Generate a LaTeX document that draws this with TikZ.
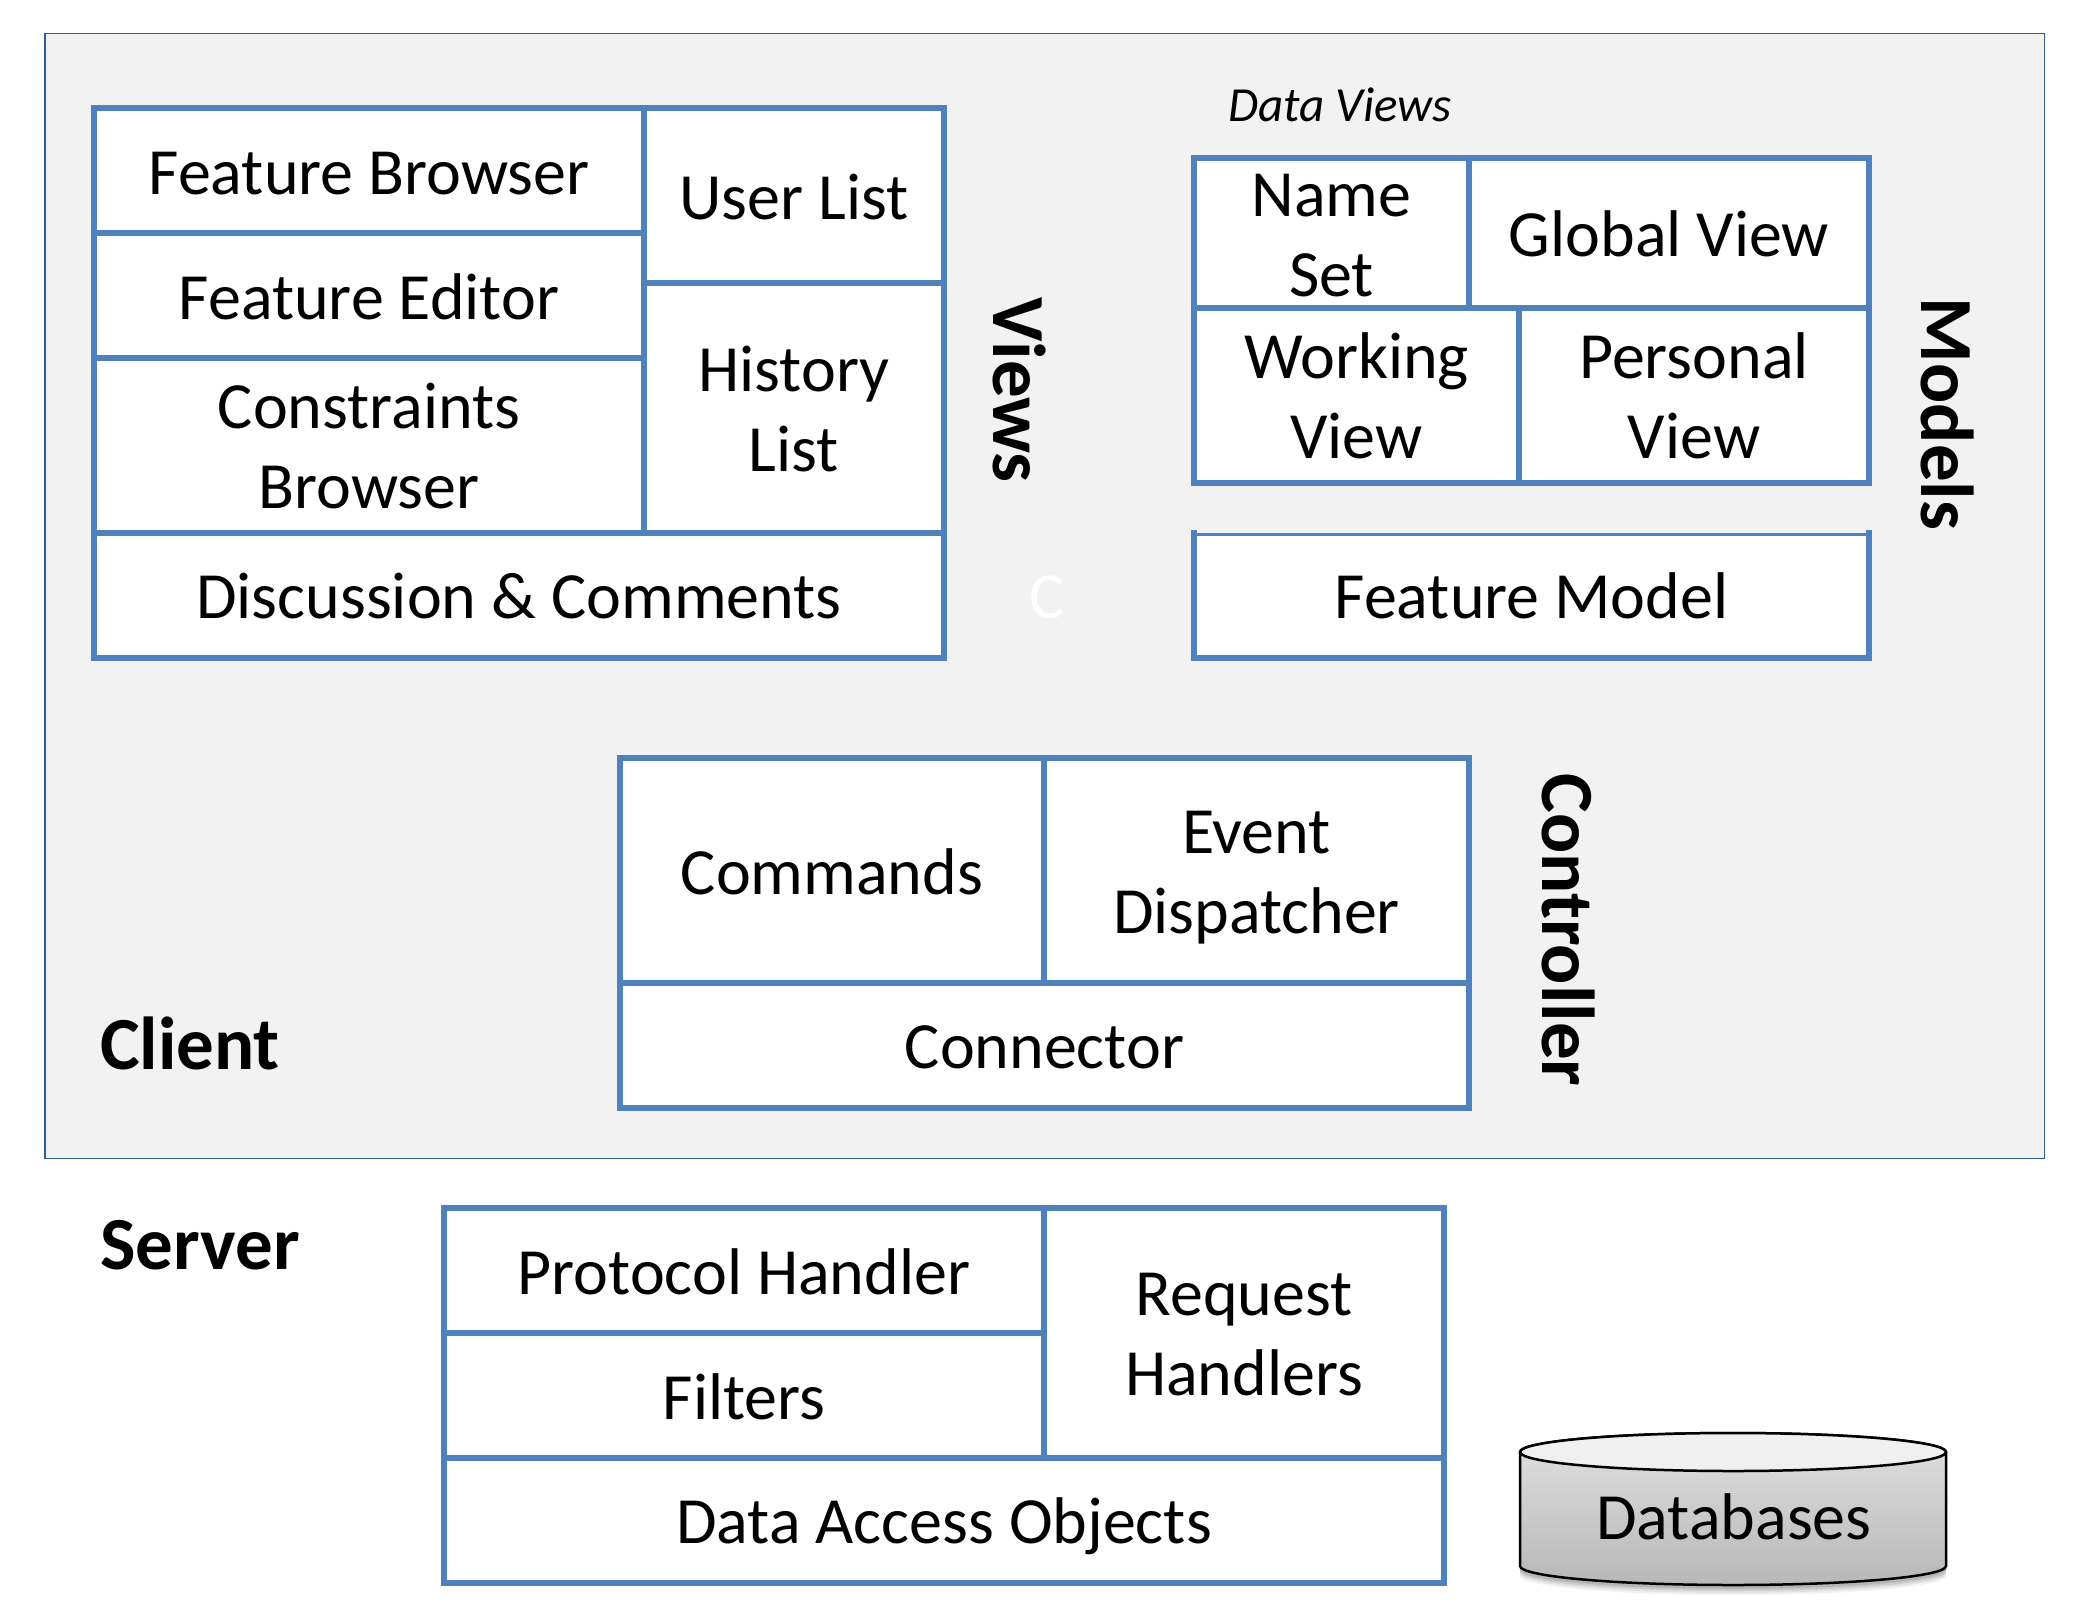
\documentclass[tikz,border=0pt]{standalone}
\usepackage{fontspec}
\setmainfont{Carlito}
\definecolor{boxblue}{HTML}{4F81BD}
\definecolor{panelgray}{HTML}{F2F2F2}
\definecolor{panelline}{HTML}{2F5F93}
\tikzset{
  x=1pt,y=-1pt,
  cellbox/.style={draw=boxblue,line width=6pt,fill=white,rectangle,inner sep=0pt,outer sep=0pt},
  lbl/.style={inner sep=0pt,outer sep=0pt,align=center,font=\fontsize{66}{80}\selectfont},
  sidelbl/.style={inner sep=0pt,outer sep=0pt,rotate=-90,font=\fontsize{75}{80}\selectfont\bfseries},
  tierlbl/.style={inner sep=0pt,outer sep=0pt,anchor=west,font=\fontsize{75}{80}\selectfont\bfseries},
  dblbl/.style={inner sep=0pt,outer sep=0pt,font=\fontsize{66}{70}\selectfont},
}
\newcommand{\cell}[7][0]{\node[cellbox,minimum width={(#5-#3)*1pt},minimum height={(#6-#4)*1pt}] (#2) at ({(#3+#5)/2},{(#4+#6)/2}) {};
  \node[lbl,yshift={-(#1)*1pt}] (#2t) at (#2.center) {#7};}
\begin{document}
\begin{tikzpicture}
\useasboundingbox (0,0) rectangle (2092,1620);
\node[rectangle,draw=panelline,line width=1.4pt,fill=panelgray,minimum width=1999.4pt,minimum height=1124.8pt,inner sep=0pt,outer sep=0pt] (client) at (1044.6,595.9) {};
% Views
\cell[3]{fb}{94}{108}{644}{233}{Feature Browser}
\cell[1]{fe}{94}{233}{644}{358}{Feature Editor}
\cell[1]{cb}{94}{358}{644}{533}{Constraints\\Browser}
\cell[2]{ul}{644}{108}{944}{283}{User List}
\cell[1]{hl}{644}{283}{944}{533}{History\\List}
\cell[1]{dc}{94}{533}{944}{658}{Discussion \& Comments}
\node[sidelbl] (views) at (1020,390) {Views};
\node[inner sep=0pt,font=\fontsize{66}{70}\selectfont,text=white] (cc) at (1047,597) {C};
% Models
\node[inner sep=0pt,font=\fontsize{49}{50}\selectfont\itshape] (dv) at (1340,105) {Data Views};
\cell[3]{ns}{1194}{158}{1469}{308}{Name\\Set}
\cell[1]{gv}{1469}{158}{1869}{308}{Global View}
\cell{wv}{1194}{308}{1519}{483}{Working\\View}
\cell{pv}{1519}{308}{1869}{483}{Personal\\View}
\cell{fm}{1194}{533}{1869}{658}{Feature Model}
\path[fill=panelgray] (1197,529) rectangle (1866,533.4);
\node[sidelbl] (models) at (1948,414) {Models};
% Controller
\cell[1.5]{cmd}{620}{758}{1044}{983}{Commands}
\cell[7.5]{ed}{1044}{758}{1469}{983}{Event\\Dispatcher}
\cell[1.5]{con}{620}{983}{1469}{1108}{Connector}
\node[sidelbl] (ctrl) at (1569,930) {Controller};
\node[tierlbl] (clientt) at (100,1043) {Client};
% Server
\node[tierlbl] (servert) at (100,1245) {Server};
\cell[1.5]{ph}{444}{1208}{1044}{1333}{Protocol Handler}
\cell[1.5]{fl}{444}{1333}{1044}{1458}{Filters}
\cell[2]{rh}{1044}{1208}{1444}{1458}{Request\\Handlers}
\cell[6]{dao}{444}{1458}{1444}{1583}{Data Access Objects}
% Database
\foreach \o/\d in {0.05/10,0.07/8,0.09/6,0.11/4}{
  \fill[black,opacity=\o] (1520,1452+\d) -- (1520,1566+\d) arc[start angle=180,end angle=0,x radius=213,y radius=19] -- (1946,1452+\d) -- cycle;
}
\path[draw=black,line width=2.5pt,top color=white!88!black,bottom color=black!28] (1520,1452) -- (1520,1566) arc[start angle=180,end angle=0,x radius=213,y radius=19] -- (1946,1452) arc[start angle=0,end angle=-180,x radius=213,y radius=19] -- cycle;
\path[draw=black,line width=2.5pt,fill=black!6] (1733,1452) ellipse[x radius=213,y radius=19];
\node[dblbl] (db) at (1734,1517) {Databases};
\end{tikzpicture}
\end{document}
